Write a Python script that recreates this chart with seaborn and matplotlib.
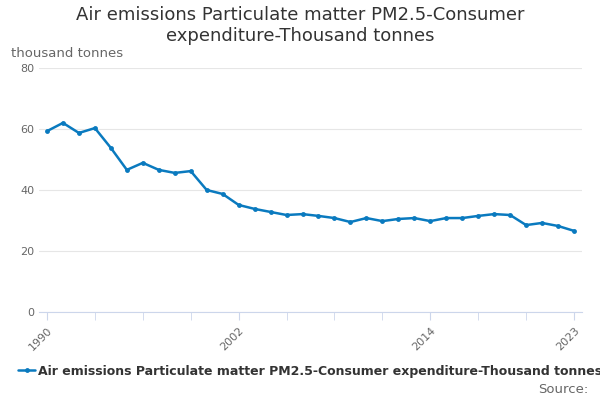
import matplotlib
matplotlib.use("Agg")
import matplotlib.pyplot as plt
import seaborn as sns
import pandas as pd

years = list(range(1990, 2024))
values = [59.3, 62.0, 58.7, 60.3, 53.8, 46.6, 48.9, 46.6, 45.6, 46.2, 40.0, 38.7,
          35.1, 33.8, 32.8, 31.8, 32.1, 31.5, 30.8, 29.5, 30.8, 29.8, 30.5, 30.8,
          29.8, 30.8, 30.8, 31.5, 32.1, 31.8, 28.5, 29.2, 28.2, 26.6]
series_name = "Air emissions Particulate matter PM2.5-Consumer expenditure-Thousand tonnes"
df = pd.DataFrame({"year": years, "value": values, "series": series_name})

sns.set_style("white")
fig = plt.figure(figsize=(6, 4), dpi=100)
ax = fig.add_axes([0.065, 0.22, 0.905, 0.61])
sns.lineplot(data=df, x="year", y="value", hue="series", palette=["#0a7abf"],
             marker="o", markersize=3.5, markeredgewidth=0, linewidth=1.8, ax=ax)
ax.set_xlim(1989.5, 2023.5)
ax.set_ylim(0, 80)
ax.set_yticks([0, 20, 40, 60, 80])
ax.yaxis.grid(True, color="#e6e6e6", linewidth=0.8)
ax.set_xticks([1990, 2002, 2014, 2023])
ax.set_xticks(list(range(1990, 2024, 3)), minor=True)
ax.set_xticklabels(["1990", "2002", "2014", "2023"], rotation=45, ha="right",
                   rotation_mode="anchor", fontsize=8, color="#666666")
ax.tick_params(axis="x", which="both", length=6, color="#ccd6eb", direction="out", bottom=True)
ax.tick_params(axis="y", length=0, labelsize=8, labelcolor="#666666")
for s in ["top", "right", "left"]:
    ax.spines[s].set_visible(False)
ax.spines["bottom"].set_color("#ccd6eb")
ax.set_xlabel("")
ax.set_ylabel("")
fig.text(0.018, 0.858, "thousand tonnes", fontsize=9.5, color="#666666")
fig.suptitle("Air emissions Particulate matter PM2.5-Consumer\nexpenditure-Thousand tonnes",
             y=0.985, fontsize=13, color="#333333")
leg = ax.legend(loc="upper center", bbox_to_anchor=(0.5, -0.17), frameon=False,
                prop={"weight": "bold", "size": 9}, handlelength=1.3, handletextpad=0.3)
for t in leg.get_texts():
    t.set_color("#333333")
fig.text(0.98, 0.01, "Source:", ha="right", va="bottom", fontsize=9.5, color="#666666")
fig.savefig("out.png", dpi=100)
